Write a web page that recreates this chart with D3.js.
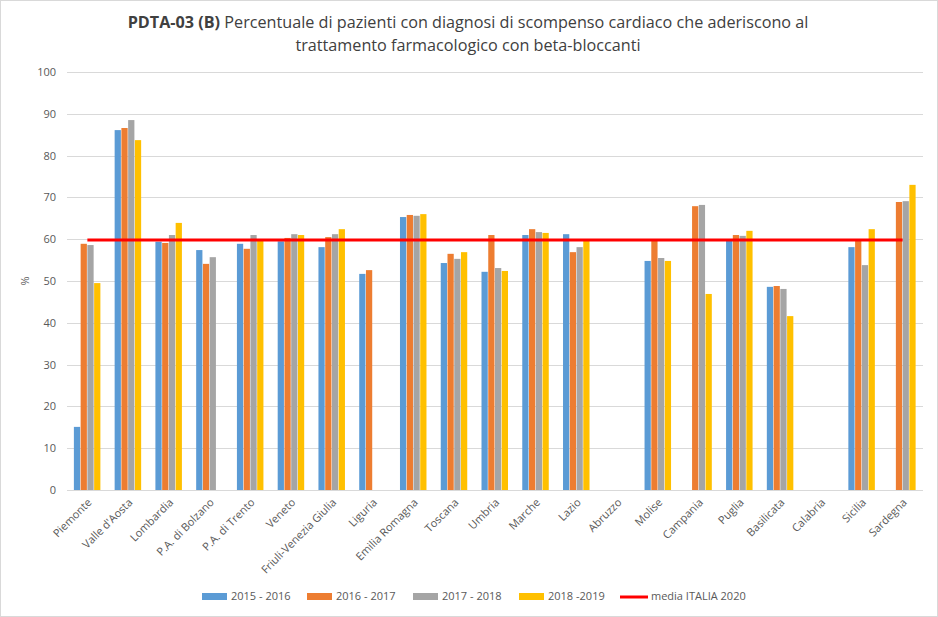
<!DOCTYPE html>
<html><head><meta charset="utf-8">
<script src="https://cdn.jsdelivr.net/npm/d3@7"></script>
<style>
body{margin:0;background:#fff;}
svg{display:block;font-family:"Open Sans",sans-serif;}
</style></head>
<body><svg id="c" width="938" height="617"></svg>
<script>
const categories = ["Piemonte","Valle d'Aosta","Lombardia","P.A. di Bolzano","P.A. di Trento","Veneto","Friuli-Venezia Giulia","Liguria","Emilia Romagna","Toscana","Umbria","Marche","Lazio","Abruzzo","Molise","Campania","Puglia","Basilicata","Calabria","Sicilia","Sardegna"];
const seriesNames = ["2015 - 2016","2016 - 2017","2017 - 2018","2018 -2019"];
const s2015 = [15.1,86.1,59.4,57.4,58.9,59.5,58.1,51.7,65.3,54.3,52.2,61.0,61.2,null,54.8,null,59.7,48.6,null,58.1,null];
const s2016 = [58.9,86.6,59.1,54.1,57.7,60.3,60.5,52.6,65.8,56.5,61.0,62.4,56.9,null,59.9,67.9,61.0,48.8,null,59.9,68.9];
const s2017 = [58.6,88.5,61.0,55.7,61.0,61.2,61.2,null,65.6,55.3,53.1,61.7,58.1,null,55.5,68.2,60.8,48.1,null,53.8,69.1];
const s2018 = [49.5,83.7,63.9,null,59.6,61.0,62.4,null,66.0,56.9,52.4,61.5,59.6,null,54.8,46.9,62.0,41.6,null,62.4,73.0];
const mediaItalia = 59.8;
const mediaLabel = "media ITALIA 2020";
const yTicks = [0,10,20,30,40,50,60,70,80,90,100];
const colors = ["#5b9bd5","#ed7d31","#a5a5a5","#ffc000"];
const mediaColor = "#ff0000";

const series = [s2015,s2016,s2017,s2018];
const svg = d3.select("#c");
const W = 938, H = 617;
const m = {left:67, right:15, top:72, bottom:127};
const x0 = m.left, x1 = W - m.right, yTop = m.top, yBot = H - m.bottom;
const txtCol = "#595959";

svg.append("rect").attr("x",0.5).attr("y",0.5).attr("width",W-1).attr("height",H-1)
  .attr("fill","#fff").attr("stroke","#d9d9d9");

const x = d3.scaleBand().domain(categories).range([x0,x1]).paddingInner(0).paddingOuter(0);
const groupW = 27;
const xs = d3.scaleBand().domain(d3.range(4)).range([0,groupW]);
const y = d3.scaleLinear().domain([0,100]).range([yBot,yTop]);

// gridlines
svg.append("g").selectAll("line").data(yTicks).join("line")
  .attr("x1",x0).attr("x2",x1)
  .attr("y1",d=>Math.round(y(d))+0.5).attr("y2",d=>Math.round(y(d))+0.5)
  .attr("stroke","#d9d9d9").attr("stroke-width",1);

// y axis labels
const yAxis = d3.axisLeft(y).tickValues(yTicks).tickSize(0).tickPadding(0);
const ya = svg.append("g").attr("transform",`translate(${x0-11},0)`).call(yAxis);
ya.select(".domain").remove();
ya.attr("font-size",null).attr("font-family",null);
ya.selectAll("text").style("font-size","11px").style("fill",txtCol).style("font-family","'Open Sans',sans-serif");

// bars
series.forEach((s,si)=>{
  svg.append("g").selectAll("rect").data(categories.map((c,i)=>({c,v:s[i]})).filter(d=>d.v!=null))
    .join("rect")
    .attr("x",d=>x(d.c)+x.bandwidth()/2-groupW/2+xs(si))
    .attr("width",xs.bandwidth()-0.5)
    .attr("y",d=>y(d.v)).attr("height",d=>y(0)-y(d.v))
    .attr("fill",colors[si]);
});

// media line
svg.append("line")
  .attr("x1",x(categories[0])+x.bandwidth()/2)
  .attr("x2",x(categories[categories.length-1])+x.bandwidth()/2)
  .attr("y1",y(mediaItalia)).attr("y2",y(mediaItalia))
  .attr("stroke",mediaColor).attr("stroke-width",3);

// x axis labels
const xAxis = d3.axisBottom(x).tickSize(0).tickPadding(0);
const xa = svg.append("g").attr("transform",`translate(0,${yBot})`).call(xAxis);
xa.select(".domain").remove();
xa.attr("font-size",null).attr("font-family",null);
xa.selectAll("text")
  .style("font-size","11px").style("fill",txtCol).style("font-family","'Open Sans',sans-serif")
  .attr("text-anchor","end").attr("dy",null).attr("y",0)
  .attr("transform","translate(3,11) rotate(-45)")
  .attr("dominant-baseline","middle");

// y title
svg.append("text").attr("transform",`translate(29,${(yTop+yBot)/2}) rotate(-90)`)
  .attr("text-anchor","middle").style("font-size","11px").style("fill",txtCol)
  .text("%");

// title
const t = svg.append("text").attr("text-anchor","middle").style("font-size","16.2px").style("fill","#404040");
const l1 = t.append("tspan").attr("x",468).attr("y",28);
l1.append("tspan").attr("font-weight","bold").text("PDTA-03 (B)");
l1.append("tspan").text(" Percentuale di pazienti con diagnosi di scompenso cardiaco che aderiscono al");
t.append("tspan").attr("x",468).attr("y",51).text("trattamento farmacologico con beta-bloccanti");

// legend
const legX = [202,307,413,519];
const lg = svg.append("g").style("font-size","11px").style("fill",txtCol);
seriesNames.forEach((n,i)=>{
  lg.append("rect").attr("x",legX[i]).attr("y",593).attr("width",25).attr("height",7).attr("fill",colors[i]);
  lg.append("text").attr("x",legX[i]+29).attr("y",597).attr("dominant-baseline","middle").text(n);
});
lg.append("line").attr("x1",620).attr("x2",648).attr("y1",597).attr("y2",597).attr("stroke",mediaColor).attr("stroke-width",3);
lg.append("text").attr("x",651).attr("y",597).attr("dominant-baseline","middle").text(mediaLabel);
</script></body></html>
